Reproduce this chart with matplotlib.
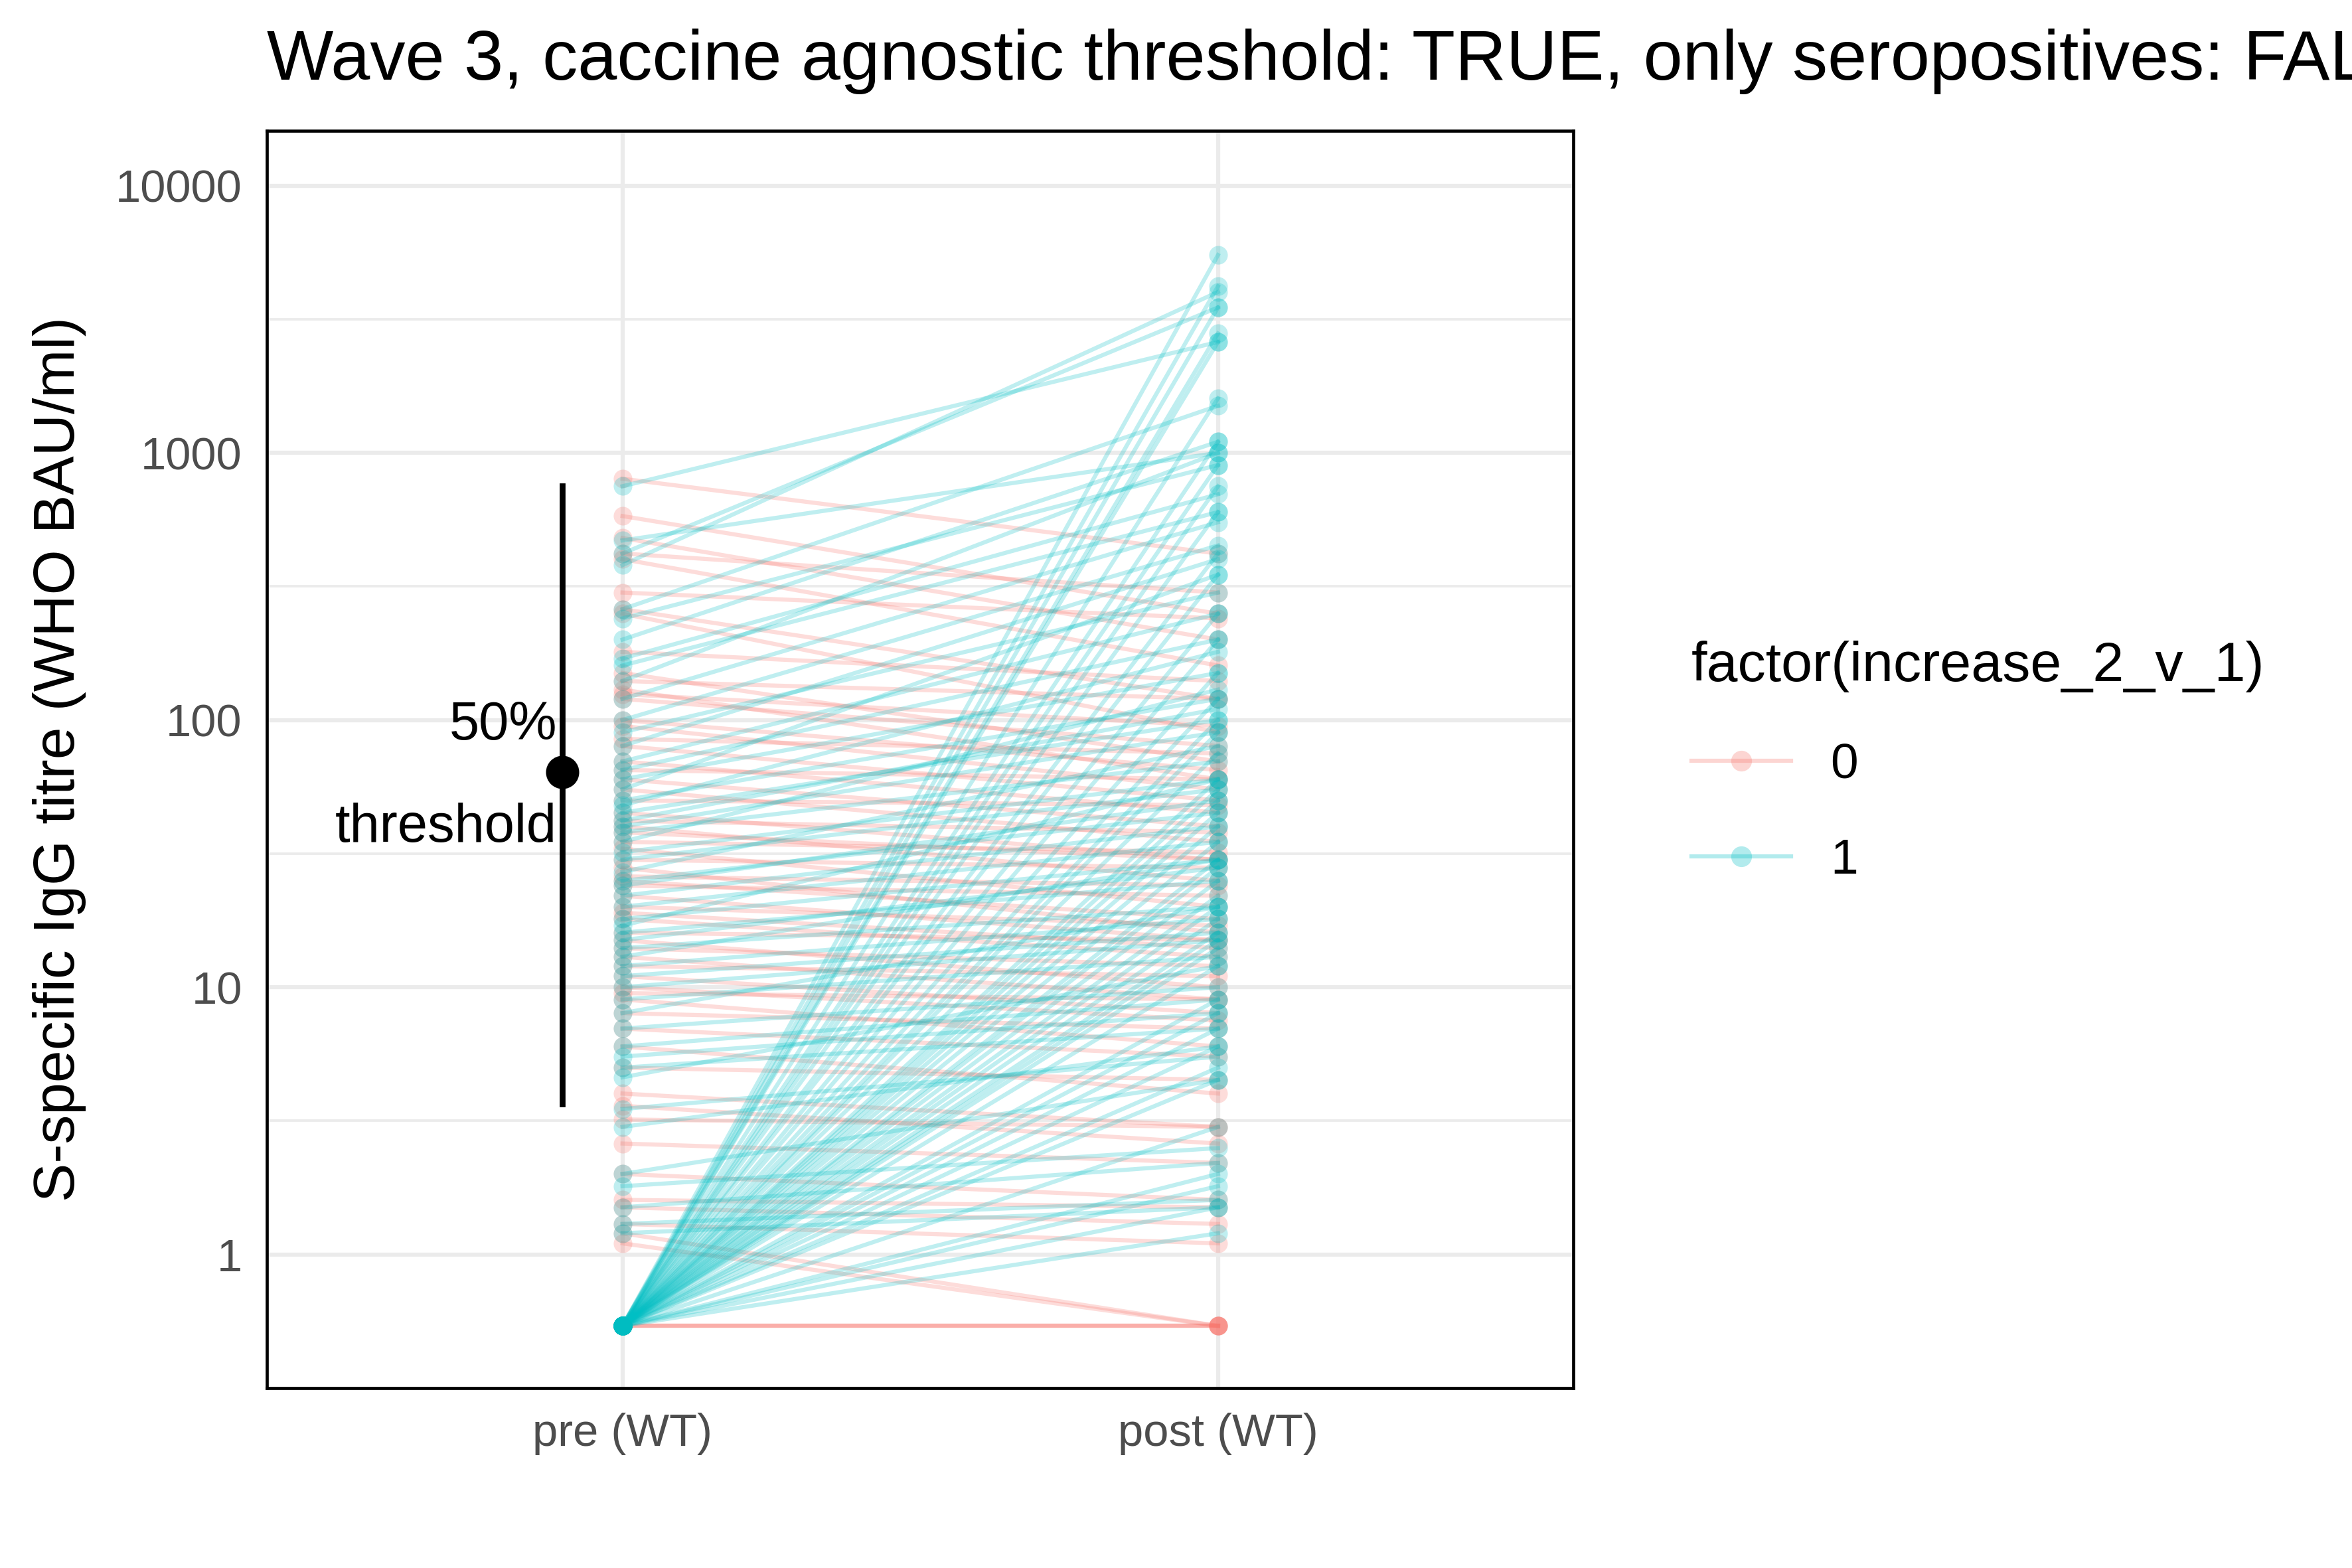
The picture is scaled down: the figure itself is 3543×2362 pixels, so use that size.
import matplotlib
matplotlib.use("Agg")
import matplotlib.pyplot as plt
import numpy as np
from matplotlib.lines import Line2D

plt.rcParams['font.family'] = ['Arial', 'Liberation Sans', 'DejaVu Sans']

timepoints = ["pre (WT)", "post (WT)"]
floor = 0.54

# group 0: no increase
pre0 = [800, 580, 480, 420, 400, 300, 260, 250, 180, 150, 140, 130, 125, 120, 100, 95, 85, 80, 70,
        65, 60, 55, 50, 45, 42, 40, 38, 35, 33, 30, 28, 26, 25, 24, 22, 20, 19, 18, 16, 15, 14, 13,
        12, 11, 10, 9.5, 9, 8, 7, 6, 5, 4, 3.6, 3.2, 2.6, 2.0, 1.6, 1.5, 1.3, 1.2, 1.1, floor, floor, floor]
post0 = [420, 250, 200, 300, 160, 240, 120, 90, 140, 70, 120, 60, 95, 80, 65, 55, 75, 50, 45,
         60, 40, 35, 48, 30, 38, 25, 30, 32, 20, 28, 16, 24, 18, 22, 15, 17, 14, 13, 15, 10, 12, 9,
         11, 8, 7.5, 9, 6, 7, 5.5, 4, 4.5, 3, 2.6, 3.0, 2.2, 1.6, 1.5, 1.3, 1.1, floor, floor, floor, floor, floor]

# group 1: increase
pre1 = [floor]*46 + [750, 470, 420, 380, 260, 240, 200, 170, 160, 140, 120, 100, 90, 80, 70, 65, 60,
                     55, 50, 48, 45, 42, 40, 38, 35, 32, 30, 27, 25, 24, 22, 20, 18, 17, 16, 15, 14,
                     13, 12, 11, 10, 9, 8, 7, 6, 5.5, 5, 4.6, 3.5, 3.0, 2.0, 1.8, 1.5, 1.3, 1.2]
post1 = [5500, 4200, 3500, 2800, 2600, 1600, 1100, 900, 750, 600, 420, 350, 250, 200, 150, 120, 100,
         90, 75, 60, 55, 50, 45, 40, 35, 30, 28, 25, 22, 20, 18, 16, 15, 14, 12, 9, 8, 7, 6, 5, 4.5,
         3.0, 2.0, 1.8, 1.5, 1.2] + \
        [2600, 1000, 3500, 4000, 1500, 900, 1100, 700, 600, 1000, 550, 450, 300, 400, 250, 200, 150,
         350, 120, 180, 100, 110, 90, 70, 130, 60, 55, 80, 45, 50, 40, 35, 30, 60, 25, 28, 20,
         30, 18, 16, 15, 13, 20, 10, 9, 8, 7, 12, 5.5, 6, 4.5, 2.5, 2.2, 1.6, 1.5]

thr_mid, thr_lo, thr_hi = 63.8, 3.66, 750

c0, c1 = "#F8766D", "#00BFC4"

fig = plt.figure(figsize=(3543/225, 2362/225), dpi=225)
ax = fig.add_axes([0.1135, 0.1148, 0.5555, 0.8019])
x = [1, 2]
for a, b in zip(pre0, post0):
    ax.plot(x, [a, b], color=c0, alpha=0.25, lw=2, marker='o', ms=9, mew=0)
for a, b in zip(pre1, post1):
    ax.plot(x, [a, b], color=c1, alpha=0.25, lw=2, marker='o', ms=9, mew=0)

ax.plot([0.899, 0.899], [thr_lo, thr_hi], color='black', lw=2.8)
ax.plot([0.899], [thr_mid], 'o', color='black', ms=15)
ax.text(0.89, thr_mid*1.2, "50%", ha='right', va='bottom', fontsize=26)
ax.text(0.89, thr_mid/1.3, "threshold", ha='right', va='top', fontsize=26)

ax.set_yscale('log')
ax.set_ylim(0.345, 16070)
ax.set_xlim(0.403, 2.597)
ax.set_yticks([1, 10, 100, 1000, 10000])
ax.set_yticklabels(["1", "10", "100", "1000", "10000"])
ax.set_yticks([10**(k+0.5) for k in range(-1, 4)], minor=True)
ax.yaxis.set_minor_formatter(plt.NullFormatter())
ax.set_xticks(x)
ax.set_xticklabels(timepoints)
ax.grid(True, which='major', color='#EBEBEB', lw=2)
ax.grid(True, which='minor', axis='y', color='#EBEBEB', lw=1.2)
ax.set_axisbelow(True)
ax.tick_params(which='both', length=0, labelsize=22, colors='#4D4D4D', pad=12)
for s in ax.spines.values():
    s.set_linewidth(1.5)
ax.set_ylabel("S-specific IgG titre (WHO BAU/ml)", fontsize=28, labelpad=14)

fig.text(0.1135, 0.94, "Wave 3, caccine agnostic threshold: TRUE, only seropositives: FALSE",
         fontsize=34, ha='left', va='bottom')

handles = [Line2D([0], [0], color=c0, alpha=0.3, lw=2, marker='o', ms=10, mew=0),
           Line2D([0], [0], color=c1, alpha=0.3, lw=2, marker='o', ms=10, mew=0)]
leg = fig.legend(handles, ["0", "1"], title="factor(increase_2_v_1)", loc='upper left',
                 bbox_to_anchor=(0.70, 0.62), frameon=False, fontsize=24, title_fontsize=27,
                 handlelength=2.0, labelspacing=1.0, alignment='left')
fig.savefig("out.png", dpi=225)
